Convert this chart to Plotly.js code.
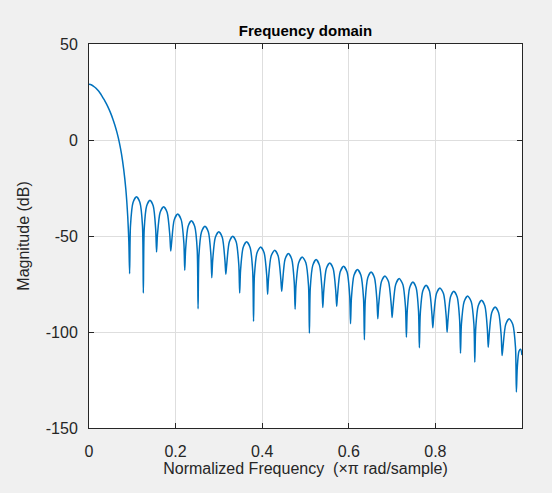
<!DOCTYPE html>
<html>
<head>
<meta charset="utf-8">
<script src="https://cdn.plot.ly/plotly-3.0.1.min.js"></script>
<style>
  html, body { margin: 0; padding: 0; background: #f0f0f0; }
  #chart { width: 552px; height: 493px; }
</style>
</head>
<body>
<div id="chart"></div>
<script>
// Main lobe (normalized frequency, x pi rad/sample) and magnitude (dB)
const mainLobeFreq = [0, 0.005, 0.01, 0.015, 0.02, 0.025, 0.03, 0.035, 0.04, 0.045, 0.05, 0.055, 0.06, 0.065, 0.07, 0.075, 0.08, 0.085, 0.0895, 0.092, 0.0938];
const mainLobeDb   = [29.1, 28.8, 28.1, 27.2, 26.0, 24.6, 22.9, 21.0, 18.9, 16.6, 14.0, 11.0, 7.6, 3.6, -1.2, -7.2, -15, -25.5, -40, -53, -69.6];

// Sidelobes, one lobe per line (rising edge, shoulder, peak, shoulder, falling edge, null)
const sidelobeFreq = [
  0.0958, 0.1017, 0.1097, 0.1176, 0.1235, 0.1255,
  0.1275, 0.1331, 0.1408, 0.1484, 0.154, 0.156,
  0.158, 0.1642, 0.1724, 0.1805, 0.1867, 0.1887,
  0.1907, 0.1968, 0.2049, 0.213, 0.2191, 0.2211,
  0.2231, 0.2288, 0.2365, 0.2442, 0.2499, 0.2519,
  0.2539, 0.2598, 0.2678, 0.2757, 0.2816, 0.2836,
  0.2856, 0.2917, 0.2998, 0.3079, 0.314, 0.316,
  0.318, 0.324, 0.332, 0.34, 0.346, 0.348,
  0.350, 0.356, 0.364, 0.372, 0.378, 0.380,
  0.382, 0.3881, 0.3963, 0.4044, 0.4105, 0.4125,
  0.4145, 0.4206, 0.4288, 0.4369, 0.443, 0.445,
  0.447, 0.4528, 0.4605, 0.4683, 0.474, 0.476,
  0.478, 0.4843, 0.4925, 0.5008, 0.507, 0.509,
  0.511, 0.5168, 0.5245, 0.5323, 0.538, 0.540,
  0.542, 0.548, 0.556, 0.564, 0.570, 0.572,
  0.574, 0.580, 0.588, 0.596, 0.602, 0.604,
  0.606, 0.612, 0.620, 0.628, 0.634, 0.636,
  0.638, 0.6438, 0.6515, 0.6593, 0.665, 0.667,
  0.669, 0.6753, 0.6835, 0.6918, 0.698, 0.700,
  0.702, 0.7083, 0.7165, 0.7248, 0.731, 0.733,
  0.735, 0.7405, 0.748, 0.7555, 0.761, 0.763,
  0.765, 0.7708, 0.7785, 0.7863, 0.792, 0.794,
  0.796, 0.8023, 0.8105, 0.8188, 0.825, 0.827,
  0.829, 0.8348, 0.8425, 0.8503, 0.856, 0.858,
  0.860, 0.8663, 0.8745, 0.8828, 0.889, 0.891,
  0.893, 0.8988, 0.9065, 0.9143, 0.920, 0.922,
  0.924, 0.930, 0.938, 0.946, 0.952, 0.954,
  0.956, 0.9623, 0.9705, 0.9788, 0.985, 0.987,
  0.989, 0.993, 0.997, 1.0
];
const sidelobeDb = [
  -44.6, -32.6, -29.6, -32.6, -44.6, -79.7,
  -46.4, -34.4, -31.4, -34.4, -46.4, -58.3,
  -49.8, -37.8, -34.8, -37.8, -49.8, -57.8,
  -53.6, -41.6, -38.6, -41.6, -53.6, -67.9,
  -57.1, -45.1, -42.1, -45.1, -57.1, -87.9,
  -59.9, -47.9, -44.9, -47.9, -59.9, -71.7,
  -62.8, -50.8, -47.8, -50.8, -62.8, -69.9,
  -65.1, -53.1, -50.1, -53.1, -65.1, -79.7,
  -68.0, -56.0, -53.0, -56.0, -68.0, -94.5,
  -70.7, -58.7, -55.7, -58.7, -70.7, -80.4,
  -72.4, -60.4, -57.4, -60.4, -72.4, -78.8,
  -74.1, -62.1, -59.1, -62.1, -74.1, -88.1,
  -75.9, -63.9, -60.9, -63.9, -75.9, -100.6,
  -77.3, -65.3, -62.3, -65.3, -77.3, -87.3,
  -79.0, -67.0, -64.0, -67.0, -79.0, -86.6,
  -80.8, -68.8, -65.8, -68.8, -80.8, -95.7,
  -82.5, -70.5, -67.5, -70.5, -82.5, -104.0,
  -83.7, -71.7, -68.7, -71.7, -83.7, -93.1,
  -85.8, -73.8, -70.8, -73.8, -85.8, -92.5,
  -87.2, -75.2, -72.2, -75.2, -87.2, -102.7,
  -88.9, -76.9, -73.9, -76.9, -88.9, -108.2,
  -90.7, -78.7, -75.7, -78.7, -90.7, -97.8,
  -92.1, -80.1, -77.1, -80.1, -92.1, -100.1,
  -93.8, -81.8, -78.8, -81.8, -93.8, -111.1,
  -96.2, -84.2, -81.2, -84.2, -96.2, -115.7,
  -98.5, -86.5, -83.5, -86.5, -98.5, -107.9,
  -102.0, -90.0, -87.0, -90.0, -102.0, -112.3,
  -108.1, -96.1, -93.1, -96.1, -108.1, -131.3,
  -119, -110, -109, -112
];

const xTickVals = [0, 0.2, 0.4, 0.6, 0.8];
const xTickText = ['0', '0.2', '0.4', '0.6', '0.8'];
const yTickVals = [-150, -100, -50, 0, 50];
const yTickText = ['-150', '-100', '-50', '0', '50'];

const freq = mainLobeFreq.concat(sidelobeFreq);
const magnitudeDb = mainLobeDb.concat(sidelobeDb);

const fontFamily = 'Liberation Sans, Arial, Helvetica, sans-serif';
const axisColor = '#262626';

const trace = {
  x: freq,
  y: magnitudeDb,
  type: 'scatter',
  mode: 'lines',
  line: { color: '#0072BD', width: 1.5, shape: 'spline', smoothing: 0.7 },
  hoverinfo: 'skip'
};

const axisCommon = {
  showgrid: true,
  gridcolor: '#dedede',
  gridwidth: 1,
  zeroline: false,
  showline: true,
  linecolor: axisColor,
  linewidth: 1,
  mirror: 'ticks',
  ticks: 'inside',
  ticklen: 5,
  tickwidth: 1,
  tickcolor: axisColor,
  tickfont: { family: fontFamily, size: 16, color: axisColor }
};

const layout = {
  width: 552,
  height: 493,
  paper_bgcolor: '#f0f0f0',
  plot_bgcolor: '#ffffff',
  showlegend: false,
  margin: { l: 89, r: 30, t: 44, b: 65, pad: 0 },
  title: {
    text: '<b>Frequency domain</b>',
    font: { family: fontFamily, size: 15, color: '#000000' },
    xref: 'paper', x: 0.5, xanchor: 'center',
    yref: 'container', y: 1 - 31 / 493, yanchor: 'middle'
  },
  xaxis: Object.assign({}, axisCommon, {
    range: [0, 1],
    tickmode: 'array',
    tickvals: xTickVals,
    ticktext: xTickText,
    ticklabelstandoff: 9,
    title: {
      text: 'Normalized Frequency  (\u00d7\u03c0 rad/sample)',
      font: { family: fontFamily, size: 16, color: axisColor },
      standoff: 0
    }
  }),
  yaxis: Object.assign({}, axisCommon, {
    range: [-150, 50],
    tickmode: 'array',
    tickvals: yTickVals,
    ticktext: yTickText,
    ticklabelstandoff: 7,
    title: {
      text: 'Magnitude (dB)',
      font: { family: fontFamily, size: 16, color: axisColor },
      standoff: 12
    }
  })
};

Plotly.newPlot('chart', [trace], layout, { displayModeBar: false, staticPlot: true });
</script>
</body>
</html>
